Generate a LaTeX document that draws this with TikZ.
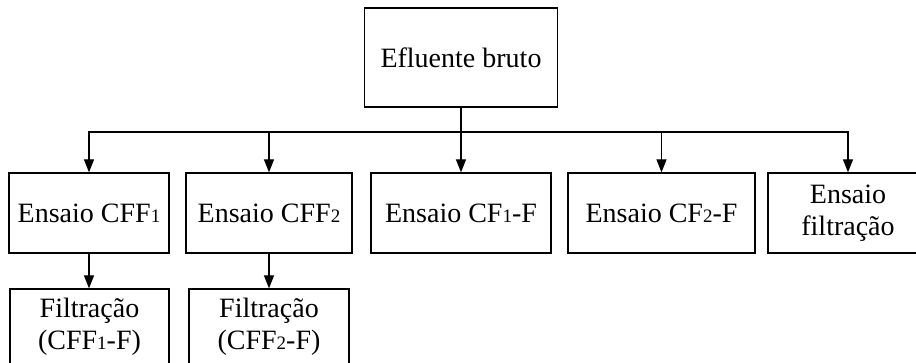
\documentclass[tikz,border=0pt]{standalone}
\usepackage{fontspec}
\setmainfont{Liberation Serif}
\usetikzlibrary{arrows.meta}
\tikzset{
  box/.style={
    draw=black,
    line width=0.6pt,
    inner sep=0pt,
    align=center,
    font=\fontsize{14}{16}\selectfont
  },
  feed/.style={
    line width=0.6pt,
    -{Triangle[length=6.5pt,width=5pt]}
  }
}
\newcommand{\lownum}[1]{{\fontsize{9.5}{10}\selectfont #1}}

\begin{document}
\begin{tikzpicture}[x=0.5pt, y=-0.5pt]
  \useasboundingbox (0,0) rectangle (916,363);
  \clip (0,0) rectangle (916,363);
  % Raw effluent
  \node[box, minimum width=96.5pt, minimum height=49.5pt] (bruto) at (461,57.5) {Efluente bruto};
  \coordinate (bus) at (461,132);
  % Tests
  \node[box, minimum width=80pt, minimum height=40pt] (cffA) at (89,213) {Ensaio CFF\lownum{1}};
  \node[box, minimum width=83pt, minimum height=40pt] (cffB) at (269,213) {Ensaio CFF\lownum{2}};
  \node[box, minimum width=90pt, minimum height=40pt] (cfA) at (461,213) {Ensaio CF\lownum{1}-F};
  \node[box, minimum width=93.5pt, minimum height=40pt] (cfB) at (661.5,213) {Ensaio CF\lownum{2}-F};
  \node[box, minimum width=80pt, minimum height=40pt] (filt) at (848,213) {Ensaio\\filtração};
  % Filtration after CFF
  \node[box, minimum width=79.5pt, minimum height=38pt] (filtA) at (89.5,327) {Filtração\\(CFF\lownum{1}-F)};
  \node[box, minimum width=80pt, minimum height=38pt] (filtB) at (269,327) {Filtração\\(CFF\lownum{2}-F)};
  % Connectors
  \draw[line width=0.6pt] (bruto.south) -- (bus);
  \foreach \t in {cffA, cffB, cfA, cfB, filt}
    \draw[feed] (bus) -| (\t.north);
  \draw[feed] (cffA.south) -- (filtA.north -| cffA.south);
  \draw[feed] (cffB.south) -- (filtB.north -| cffB.south);
\end{tikzpicture}
\end{document}
